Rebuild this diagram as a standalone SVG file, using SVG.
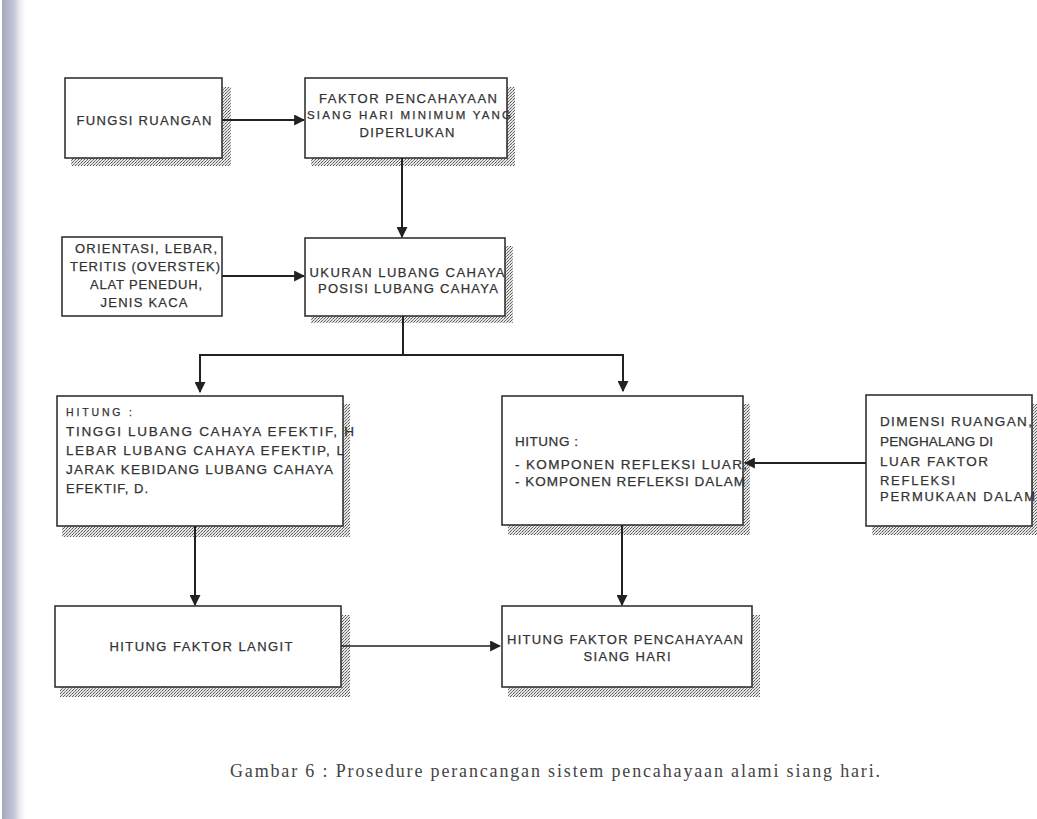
<svg xmlns="http://www.w3.org/2000/svg" width="1037" height="819" viewBox="0 0 1037 819">
<defs>
<pattern id="stip" width="3" height="3" patternUnits="userSpaceOnUse">
<rect width="3" height="3" fill="#e6e6e6"/>
<rect width="1" height="1" fill="#555"/>
<rect x="2" y="1" width="1" height="1" fill="#888"/>
<rect x="1" y="2" width="1" height="1" fill="#666"/>
</pattern>
<linearGradient id="band" x1="0" y1="0" x2="1" y2="0">
<stop offset="0" stop-color="#a4a6bc"/>
<stop offset="0.5" stop-color="#c9cbdb"/>
<stop offset="1" stop-color="#ffffff" stop-opacity="0"/>
</linearGradient>
<marker id="ah" viewBox="0 0 10 10" refX="9" refY="5" markerWidth="11" markerHeight="11" markerUnits="userSpaceOnUse" orient="auto">
<path d="M0,0 L10,5 L0,10 z" fill="#222"/>
</marker>
<style>
.box{fill:#fff;stroke:#333;stroke-width:1.6}
.sh{fill:url(#stip)}
.t{font-family:"Liberation Sans",Arial,sans-serif;font-size:13px;fill:#333;stroke:#333;stroke-width:0.25}
.tl{font-family:"Liberation Sans",Arial,sans-serif;font-size:13.5px;fill:#333;stroke:#333;stroke-width:0.25}
.c{text-anchor:middle}
.cn{fill:none;stroke:#222;stroke-width:2}
.cap{font-family:"Liberation Serif","Times New Roman",serif;font-size:18px;fill:#444}
</style>
</defs>
<rect width="1037" height="819" fill="#fff"/>
<rect x="2" y="0" width="26" height="819" fill="url(#band)"/>

<g id="n1">
<rect class="sh" x="71" y="87" width="160" height="79"/>
<rect class="box" x="65" y="78" width="157" height="80"/>
<text class="t c" x="144" y="125" textLength="135" lengthAdjust="spacing">FUNGSI RUANGAN</text>
</g>
<g id="n2">
<rect class="sh" x="311" y="87" width="204" height="79"/>
<rect class="box" x="305" y="78" width="202" height="80"/>
<text class="t c" x="408" y="103" textLength="178" lengthAdjust="spacing">FAKTOR PENCAHAYAAN</text>
<text class="t c" x="409" y="119" style="font-size:11.5px" textLength="204" lengthAdjust="spacing">SIANG HARI MINIMUM YANG</text>
<text class="t c" x="407" y="137" textLength="95" lengthAdjust="spacing">DIPERLUKAN</text>
</g>
<g id="n3">
<rect class="box" x="62" y="237" width="160" height="79"/>
<text class="t c" x="146" y="253" textLength="142" lengthAdjust="spacing">ORIENTASI, LEBAR,</text>
<text class="t c" x="145" y="271" textLength="150" lengthAdjust="spacing">TERITIS (OVERSTEK)</text>
<text class="t c" x="146" y="289" textLength="112" lengthAdjust="spacing">ALAT PENEDUH,</text>
<text class="t c" x="144" y="307" textLength="87" lengthAdjust="spacing">JENIS KACA</text>
</g>
<g id="n4">
<rect class="sh" x="311" y="246" width="202" height="77"/>
<rect class="box" x="305" y="238" width="200" height="78"/>
<text class="t c" x="407" y="277" textLength="195" lengthAdjust="spacing">UKURAN LUBANG CAHAYA</text>
<text class="t c" x="408" y="293" textLength="180" lengthAdjust="spacing">POSISI LUBANG CAHAYA</text>
</g>
<g id="n5">
<rect class="sh" x="62" y="404" width="288" height="133"/>
<rect class="box" x="57" y="396" width="286" height="130"/>
<text class="t" x="66" y="416" style="font-size:10.5px" textLength="66" lengthAdjust="spacing">HITUNG :</text>
<text class="tl" x="66" y="436" textLength="288" lengthAdjust="spacing">TINGGI LUBANG CAHAYA EFEKTIF, H</text>
<text class="tl" x="66" y="455" textLength="278" lengthAdjust="spacing">LEBAR LUBANG CAHAYA EFEKTIP, L</text>
<text class="tl" x="66" y="474" textLength="267" lengthAdjust="spacing">JARAK KEBIDANG LUBANG CAHAYA</text>
<text class="t" x="66" y="493" textLength="82" lengthAdjust="spacing">EFEKTIF, D.</text>
</g>
<g id="n6">
<rect class="sh" x="508" y="404" width="242" height="131"/>
<rect class="box" x="502" y="396" width="241" height="129"/>
<text class="tl" x="515" y="446" textLength="63" lengthAdjust="spacing">HITUNG :</text>
<text class="tl" x="515" y="469" textLength="232" lengthAdjust="spacing">- KOMPONEN  REFLEKSI LUAR,</text>
<text class="tl" x="515" y="486" textLength="230" lengthAdjust="spacing">- KOMPONEN REFLEKSI DALAM</text>
</g>
<g id="n7">
<rect class="sh" x="872" y="404" width="165" height="131"/>
<rect class="box" x="866" y="395" width="166" height="131"/>
<text class="tl" x="880" y="426" textLength="152" lengthAdjust="spacing">DIMENSI RUANGAN,</text>
<text class="tl" x="880" y="446" textLength="113" lengthAdjust="spacing">PENGHALANG DI</text>
<text class="tl" x="880" y="466" textLength="108" lengthAdjust="spacing">LUAR FAKTOR</text>
<text class="t" x="880" y="485" textLength="75" lengthAdjust="spacing">REFLEKSI</text>
<text class="t" x="880" y="501" textLength="155" lengthAdjust="spacing">PERMUKAAN DALAM</text>
</g>
<g id="n8">
<rect class="sh" x="60" y="615" width="290" height="82"/>
<rect class="box" x="55" y="606" width="286" height="81"/>
<text class="t c" x="201" y="651" textLength="183" lengthAdjust="spacing">HITUNG FAKTOR LANGIT</text>
</g>
<g id="n9">
<rect class="sh" x="508" y="615" width="252" height="82"/>
<rect class="box" x="502" y="606" width="250" height="81"/>
<text class="t c" x="625" y="644" textLength="236" lengthAdjust="spacing">HITUNG FAKTOR PENCAHAYAAN</text>
<text class="t c" x="627" y="661" textLength="87" lengthAdjust="spacing">SIANG HARI</text>
</g>

<g id="connectors">
<line class="cn" x1="222" y1="120" x2="304" y2="120" marker-end="url(#ah)"/>
<line class="cn" x1="402" y1="158" x2="402" y2="237" marker-end="url(#ah)"/>
<line class="cn" x1="222" y1="276" x2="304" y2="276" marker-end="url(#ah)"/>
<polyline class="cn" points="403,316 403,355"/>
<polyline class="cn" points="200,391 200,355 623,355 623,391" marker-end="url(#ah)"/>
<line class="cn" x1="200" y1="360" x2="200" y2="392" marker-end="url(#ah)"/>
<line class="cn" x1="866" y1="463" x2="745" y2="463" marker-end="url(#ah)"/>
<line class="cn" x1="195" y1="526" x2="195" y2="605" marker-end="url(#ah)"/>
<line class="cn" x1="622" y1="525" x2="622" y2="605" marker-end="url(#ah)"/>
<line class="cn" x1="341" y1="646" x2="500" y2="646" style="stroke-width:1.6" marker-end="url(#ah)"/>
</g>

<text class="cap" x="555" y="777" text-anchor="middle" textLength="650" lengthAdjust="spacing">Gambar 6 : Prosedure perancangan sistem pencahayaan alami siang hari.</text>
</svg>
